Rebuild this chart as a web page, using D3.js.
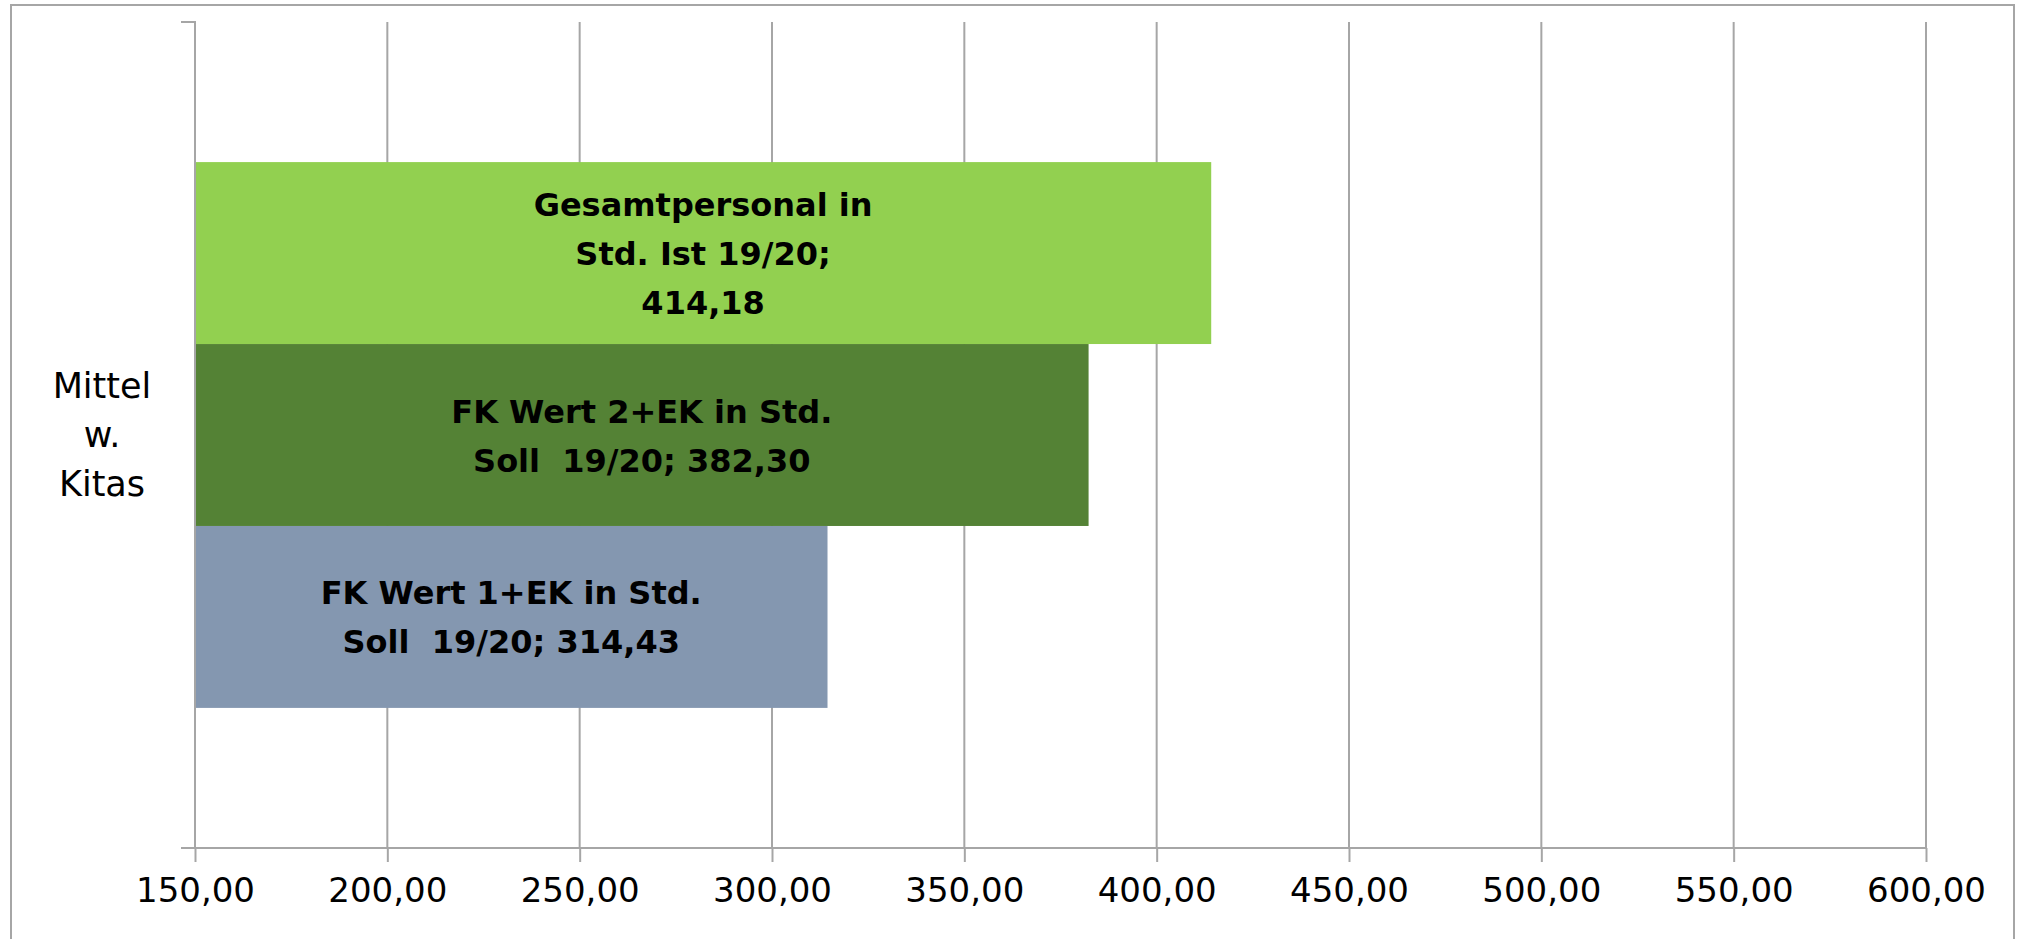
<!DOCTYPE html>
<html>
<head>
<meta charset="utf-8">
<script src="https://cdn.jsdelivr.net/npm/d3@7"></script>
<style>
  body { margin: 0; background: #fff; }
  svg { display: block; }
  text { font-family: "DejaVu Sans", "Open Sans", sans-serif; fill: #000; white-space: pre; }
</style>
</head>
<body>
<div class="chart"></div>
<script>
// Data
var category = ["Mittel", "w.", "Kitas"];
var seriesNames = ["FK Wert 1+EK in Std. Soll  19/20", "FK Wert 2+EK in Std. Soll  19/20", "Gesamtpersonal in Std. Ist 19/20"];
var seriesValues = [314.43, 382.30, 414.18];
var seriesColors = ["#8497B0", "#548235", "#92D050"];
// how the labels wrap in the picture
var labelLines = [
  ["FK Wert 1+EK in Std.", "Soll  19/20; {v}"],
  ["FK Wert 2+EK in Std.", "Soll  19/20; {v}"],
  ["Gesamtpersonal in", "Std. Ist 19/20;", "{v}"]
];
var xTicks = [150, 200, 250, 300, 350, 400, 450, 500, 550, 600];

var width = 2020, height = 939;
var plotLeft = 195, plotRight = 1926, plotTop = 22, plotBottom = 848;

var de = d3.formatLocale({decimal: ",", thousands: ".", grouping: [3], currency: ["", " €"]});
var fmt = de.format(",.2f");

var svg = d3.select(".chart").append("svg")
  .attr("width", width)
  .attr("height", height);

// outer frame
svg.append("rect")
  .attr("x", 11).attr("y", 5)
  .attr("width", 2003).attr("height", 960)
  .attr("fill", "none")
  .attr("stroke", "#a6a6a6")
  .attr("stroke-width", 2);

var x = d3.scaleLinear().domain([150, 600]).range([plotLeft, plotRight]);

// series drawn bottom to top, like Excel does
var y = d3.scaleBand()
  .domain(d3.range(seriesNames.length).reverse())
  .range([plotTop, plotBottom])
  .paddingInner(0)
  .paddingOuter(0.77);

// gridlines
svg.append("g").selectAll("line")
  .data(xTicks.slice(1))
  .enter().append("line")
    .attr("x1", function(d) { return x(d); })
    .attr("x2", function(d) { return x(d); })
    .attr("y1", plotTop)
    .attr("y2", plotBottom)
    .attr("stroke", "#a6a6a6")
    .attr("stroke-width", 2);

// bars
var bars = svg.append("g").selectAll("g")
  .data(seriesValues)
  .enter().append("g");

bars.append("rect")
  .attr("x", x(150))
  .attr("y", function(d, i) { return y(i); })
  .attr("width", function(d) { return x(d) - x(150); })
  .attr("height", y.bandwidth())
  .attr("fill", function(d, i) { return seriesColors[i]; });

bars.each(function(d, i) {
  var lines = labelLines[i].map(function(s) { return s.replace("{v}", fmt(d)); });
  var lh = 49;
  var cx = (x(150) + x(d)) / 2;
  var cy = y(i) + y.bandwidth() / 2;
  var t = d3.select(this).append("text")
    .attr("text-anchor", "middle")
    .attr("font-weight", "bold")
    .attr("font-size", 32);
  lines.forEach(function(s, k) {
    t.append("tspan")
      .attr("x", cx)
      .attr("y", cy + (k - (lines.length - 1) / 2) * lh + 12)
      .text(s);
  });
});

// x axis
var xAxis = svg.append("g")
  .attr("transform", "translate(0," + plotBottom + ")")
  .call(d3.axisBottom(x).tickValues(xTicks).tickFormat(fmt).tickSize(14).tickPadding(16));
xAxis.select(".domain").attr("stroke", "#a6a6a6").attr("stroke-width", 2).attr("d", "M181,0H" + plotRight);
xAxis.selectAll(".tick line").attr("stroke", "#a6a6a6").attr("stroke-width", 2);
xAxis.selectAll(".tick text")
  .attr("font-family", null)
  .attr("font-size", 34)
  .attr("dy", "0.71em")
  .attr("fill", "#000");

// y axis: line with ticks at the category edges
var yCat = d3.scaleBand().domain([category.join(" ")]).range([plotTop, plotBottom]);
var yAxis = svg.append("g")
  .attr("transform", "translate(" + plotLeft + ",0)")
  .call(d3.axisLeft(yCat).tickSize(0).tickFormat(""));
yAxis.select(".domain").attr("stroke", "#a6a6a6").attr("stroke-width", 2).attr("d", "M-14," + plotTop + "H0V" + plotBottom + "H-14");

// category label
var catText = svg.append("text")
  .attr("text-anchor", "middle")
  .attr("font-size", 35);
category.forEach(function(s, k) {
  catText.append("tspan")
    .attr("x", 102)
    .attr("y", yCat(yCat.domain()[0]) + yCat.bandwidth() / 2 + (k - 1) * 49 + 12)
    .text(s);
});
</script>
</body>
</html>
